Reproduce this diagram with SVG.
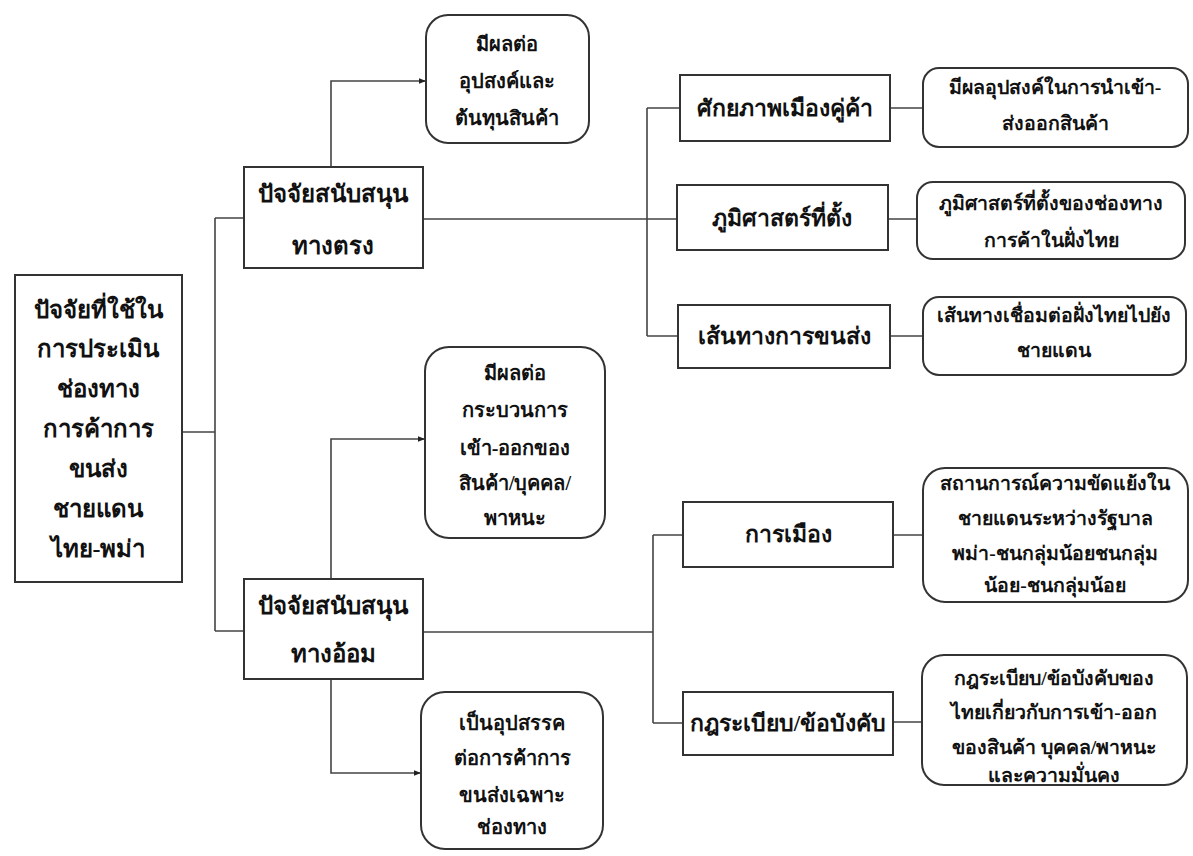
<svg xmlns="http://www.w3.org/2000/svg" width="1193" height="856" viewBox="0 0 1193 856">
<defs>
<style>
.box{fill:#fff;stroke:#333;stroke-width:2}
.ln{fill:none;stroke:#444;stroke-width:1.6}
.t{font-family:"Liberation Serif","Noto Sans CJK SC",serif;fill:#111;text-anchor:middle}
.big{font-size:24px;font-weight:bold}
.mid{font-size:23px;font-weight:bold}
.sm{font-size:20px;font-weight:bold}
.rs{font-size:19.5px;font-weight:bold}
</style>
<marker id="ah" viewBox="0 0 10 10" refX="10" refY="5" markerWidth="7" markerHeight="7" orient="auto" markerUnits="userSpaceOnUse">
<path d="M0,1 L10,5 L0,9 z" fill="#222"/>
</marker>
</defs>
<rect width="1193" height="856" fill="#fff"/>
<g id="connectors">
<path class="ln" d="M182,432 H215 M215,218 V631 M215,218 H244 M215,631 H244"/>
<path class="ln" d="M331,167 V81 H426" marker-end="url(#ah)"/>
<path class="ln" d="M331,579 V439 H425" marker-end="url(#ah)"/>
<path class="ln" d="M331,679 V773 H421" marker-end="url(#ah)"/>
<path class="ln" d="M423,219 H677 M647,108 V336 M647,108 H680 M647,336 H678"/>
<path class="ln" d="M890,108 H923 M888,219 H917 M890,336 H923"/>
<path class="ln" d="M423,632 H653 M653,535 V723 M653,535 H683 M653,723 H683"/>
<path class="ln" d="M893,535 H923 M893,722 H922"/>
</g>
<g id="root">
<rect class="box" x="15" y="275" width="167" height="307"/>
<text class="t big" x="98" y="318">ปัจจัยที่ใช้ใน</text>
<text class="t big" x="98" y="357">การประเมิน</text>
<text class="t big" x="98" y="397">ช่องทาง</text>
<text class="t big" x="98" y="437">การค้าการ</text>
<text class="t big" x="98" y="477">ขนส่ง</text>
<text class="t big" x="98" y="517">ชายแดน</text>
<text class="t big" x="98" y="557">ไทย-พม่า</text>
</g>
<g id="direct">
<rect class="box" x="244" y="167" width="179" height="101"/>
<text class="t big" x="333" y="202">ปัจจัยสนับสนุน</text>
<text class="t big" x="333" y="254">ทางตรง</text>
</g>
<g id="indirect">
<rect class="box" x="244" y="579" width="179" height="100"/>
<text class="t big" x="333" y="614">ปัจจัยสนับสนุน</text>
<text class="t big" x="333" y="662">ทางอ้อม</text>
</g>
<g id="effect-demand">
<rect class="box" x="426" y="15" width="163" height="128" rx="22"/>
<text class="t sm" x="507" y="51">มีผลต่อ</text>
<text class="t sm" x="507" y="88">อุปสงค์และ</text>
<text class="t sm" x="507" y="125">ต้นทุนสินค้า</text>
</g>
<g id="effect-process">
<rect class="box" x="425" y="347" width="180" height="191" rx="24"/>
<text class="t sm" x="515" y="380">มีผลต่อ</text>
<text class="t sm" x="515" y="417">กระบวนการ</text>
<text class="t sm" x="515" y="455">เข้า-ออกของ</text>
<text class="t sm" x="515" y="490">สินค้า/บุคคล/</text>
<text class="t sm" x="515" y="525">พาหนะ</text>
</g>
<g id="obstacle">
<rect class="box" x="421" y="692" width="182" height="157" rx="24"/>
<text class="t sm" x="512" y="730">เป็นอุปสรรค</text>
<text class="t sm" x="512" y="765">ต่อการค้าการ</text>
<text class="t sm" x="512" y="802">ขนส่งเฉพาะ</text>
<text class="t sm" x="512" y="834">ช่องทาง</text>
</g>
<g id="partner">
<rect class="box" x="680" y="75" width="210" height="66"/>
<text class="t mid" x="785" y="116">ศักยภาพเมืองคู่ค้า</text>
</g>
<g id="geography">
<rect class="box" x="677" y="185" width="211" height="65"/>
<text class="t mid" x="782" y="226">ภูมิศาสตร์ที่ตั้ง</text>
</g>
<g id="route">
<rect class="box" x="678" y="305" width="212" height="63"/>
<text class="t mid" x="784" y="344">เส้นทางการขนส่ง</text>
</g>
<g id="politics">
<rect class="box" x="683" y="502" width="210" height="65"/>
<text class="t mid" x="788" y="542">การเมือง</text>
</g>
<g id="regulation">
<rect class="box" x="683" y="692" width="210" height="63"/>
<text class="t mid" x="788" y="731">กฎระเบียบ/ข้อบังคับ</text>
</g>
<g id="partner-desc">
<rect class="box" x="923" y="68" width="265" height="79" rx="16"/>
<text class="t rs" x="1055" y="94">มีผลอุปสงค์ในการนำเข้า-</text>
<text class="t rs" x="1055" y="130">ส่งออกสินค้า</text>
</g>
<g id="geography-desc">
<rect class="box" x="917" y="182" width="268" height="77" rx="16"/>
<text class="t rs" x="1051" y="210">ภูมิศาสตร์ที่ตั้งของช่องทาง</text>
<text class="t rs" x="1051" y="247">การค้าในฝั่งไทย</text>
</g>
<g id="route-desc">
<rect class="box" x="923" y="297" width="263" height="78" rx="16"/>
<text class="t rs" x="1054" y="322">เส้นทางเชื่อมต่อฝั่งไทยไปยัง</text>
<text class="t rs" x="1054" y="357">ชายแดน</text>
</g>
<g id="politics-desc">
<rect class="box" x="923" y="468" width="265" height="134" rx="22"/>
<text class="t rs" x="1055" y="490">สถานการณ์ความขัดแย้งใน</text>
<text class="t rs" x="1055" y="525">ชายแดนระหว่างรัฐบาล</text>
<text class="t rs" x="1055" y="560">พม่า-ชนกลุ่มน้อยชนกลุ่ม</text>
<text class="t rs" x="1055" y="592">น้อย-ชนกลุ่มน้อย</text>
</g>
<g id="regulation-desc">
<rect class="box" x="922" y="655" width="265" height="130" rx="22"/>
<text class="t rs" x="1054" y="685">กฎระเบียบ/ข้อบังคับของ</text>
<text class="t rs" x="1054" y="719">ไทยเกี่ยวกับการเข้า-ออก</text>
<text class="t rs" x="1054" y="754">ของสินค้า บุคคล/พาหนะ</text>
<text class="t rs" x="1054" y="782">และความมั่นคง</text>
</g>
</svg>
